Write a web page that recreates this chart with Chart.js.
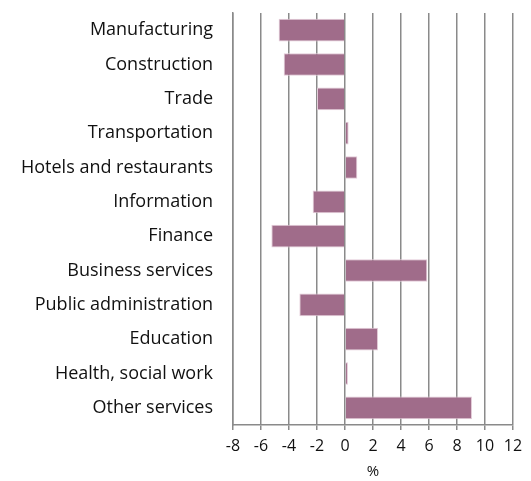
<!DOCTYPE html>
<html>
<head>
<meta charset="utf-8">
<script src="https://cdn.jsdelivr.net/npm/chart.js@4/dist/chart.umd.min.js"></script>
<style>
  html, body { margin: 0; padding: 0; background: #fff; }
  #wrap { width: 531px; height: 481px; }
</style>
</head>
<body>
<div id="wrap"><canvas id="sectors"></canvas></div>
<script>
// sector change, %
const sectors = [
    "Manufacturing", "Construction", "Trade", "Transportation",
    "Hotels and restaurants", "Information", "Finance", "Business services",
    "Public administration", "Education", "Health, social work", "Other services"
];
const change = [-4.74, -4.38, -2.0, 0.26, 0.88, -2.31, -5.26, 5.88, -3.26, 2.36, 0.21, 9.07];
const xMin = -8;
const xMax = 12;
const xStep = 2;

const FONT = "'Open Sans', sans-serif";
const GRID = "#8a8a8a";

const ctx = document.querySelector("#sectors");

new Chart(ctx, {
    type: "bar",
    data: {
        labels: sectors,
        datasets: [{
            data: change,
            backgroundColor: "#a06c8a",
            borderColor: "#e3cbd8",
            borderWidth: 1,
            borderSkipped: "start",
            barPercentage: 0.66,
            categoryPercentage: 1
        }]
    },
    options: {
        indexAxis: "y",
        responsive: true,
        maintainAspectRatio: false,
        animation: false,
        layout: { padding: { left: 0, right: 18, top: 13, bottom: 0 } },
        plugins: {
            legend: { display: false },
            tooltip: { enabled: false }
        },
        scales: {
            x: {
                min: xMin,
                max: xMax,
                ticks: {
                    stepSize: xStep,
                    color: "#111",
                    padding: 7,
                    font: { family: FONT, size: 16 }
                },
                grid: { color: GRID, lineWidth: 1.5, tickLength: 5 },
                border: { color: GRID, width: 1.5 },
                title: {
                    display: true,
                    text: "%",
                    color: "#111",
                    padding: { top: 2, bottom: 0 },
                    font: { family: FONT, size: 15 }
                },
                afterFit(scale) {
                    scale.height = 56;
                    scale.paddingLeft = 0;
                    scale.paddingRight = 0;
                }
            },
            y: {
                ticks: {
                    color: "#111",
                    padding: 12,
                    font: { family: FONT, size: 18 }
                },
                grid: { display: false },
                border: { display: true, color: GRID, width: 1.5 },
                afterFit(scale) {
                    scale.width = 233;
                    scale.paddingTop = 0;
                    scale.paddingBottom = 0;
                }
            }
        }
    }
});
</script>
</body>
</html>
